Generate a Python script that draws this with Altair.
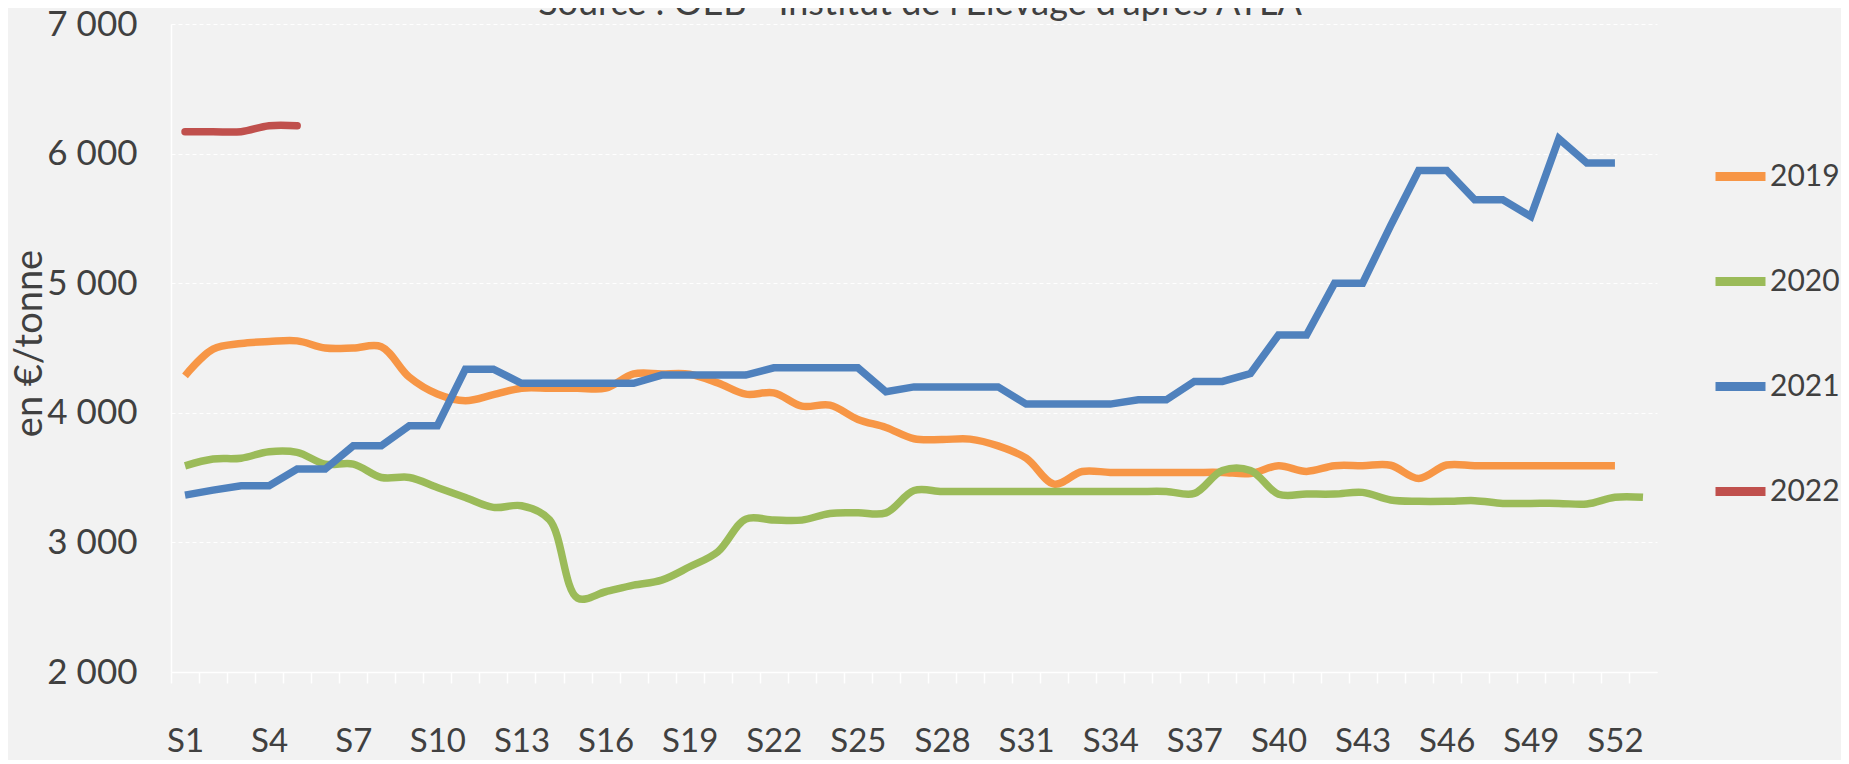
import altair as alt
import pandas as pd

weeks = [f"S{i}" for i in range(1, 54)]
label_weeks = weeks[::3]
years = ["2019", "2020", "2021", "2022"]
colors = ["#F79646", "#9BBB59", "#4F81BD", "#C0504D"]
y_ticks = [2000, 3000, 4000, 5000, 6000, 7000]

v2019 = [4285, 4491, 4535, 4550, 4555, 4500, 4500, 4510, 4275, 4145,
         4093, 4140, 4190, 4190, 4190, 4190, 4300, 4300, 4298, 4231,
         4144, 4154, 4051, 4059, 3949, 3887, 3800, 3794, 3797, 3745,
         3650, 3450, 3547, 3540, 3540, 3540, 3540, 3540, 3532, 3591,
         3548, 3592, 3592, 3595, 3494, 3597, 3592, 3592, 3592, 3592, 3592, 3592]
v2020 = [3591, 3643, 3650, 3700, 3695, 3604, 3604, 3501, 3501, 3424,
         3347, 3270, 3283, 3175, 2570, 2619, 2670, 2709, 2812, 2927,
         3180, 3172, 3172, 3223, 3228, 3228, 3400, 3393, 3393, 3393,
         3393, 3393, 3393, 3393, 3393, 3393, 3378, 3555, 3555, 3372,
         3373, 3373, 3386, 3327, 3317, 3317, 3322, 3301, 3301, 3301,
         3296, 3348, 3348]
v2021 = [3365, 3403, 3437, 3437, 3566, 3566, 3745, 3745, 3900, 3900,
         4337, 4337, 4228, 4228, 4228, 4228, 4228, 4291, 4291, 4291,
         4291, 4347, 4347, 4347, 4347, 4162, 4200, 4200, 4200, 4200,
         4067, 4067, 4067, 4067, 4100, 4100, 4242, 4242, 4303, 4600,
         4600, 5000, 5000, 5445, 5870, 5870, 5644, 5644, 5515, 6115, 5927, 5927]
v2022 = [6169, 6169, 6169, 6215, 6215]

title_text = "Source : OEB - Institut de l'Elevage d'après ATLA"

W, H = 1486, 648
STEP = W / len(weeks)
FONT = "Lato"
TXT = "#404040"


def frame(year, vals):
    return pd.DataFrame({"week": weeks[:len(vals)], "value": vals, "year": year})


label_list = "[" + ",".join(f"'{w}'" for w in label_weeks) + "]"

x_enc = alt.X(
    "week:N",
    sort=weeks,
    scale=alt.Scale(type="point", domain=weeks, padding=0.5),
    axis=alt.Axis(
        title=None,
        grid=False,
        tickOffset=-STEP / 2,
        labelOffset=STEP / 2,
        tickSize=11,
        tickColor="#FFFFFF",
        tickWidth=1.5,
        domainColor="#FFFFFF",
        domainWidth=1.5,
        labelExpr=f"indexof({label_list}, datum.value) >= 0 ? datum.value : ''",
        labelAngle=0,
        labelFontSize=33,
        labelColor=TXT,
        labelFont=FONT,
        labelPadding=68,
        labelBaseline="alphabetic",
        labelOverlap=False,
    ),
)

y_enc = alt.Y(
    "value:Q",
    scale=alt.Scale(domain=[2000, 7000], nice=False, zero=False),
    axis=alt.Axis(
        values=y_ticks,
        labelExpr="replace(format(datum.value, ','), ',', ' ')",
        grid=True,
        gridColor="#FFFFFF",
        gridDash=[4, 3],
        gridWidth=1,
        domainColor="#FFFFFF",
        domainWidth=1.5,
        ticks=False,
        labelPadding=34,
        labelFontSize=35,
        labelColor=TXT,
        labelFont=FONT,
        title="en €/tonne",
        titleFontSize=38,
        titleFont=FONT,
        titleFontWeight="normal",
        titleColor=TXT,
        titleAngle=270,
        titleX=-130,
        titleY=319,
        titleAlign="center",
        titleBaseline="alphabetic",
    ),
)

color_enc = alt.Color(
    "year:N",
    scale=alt.Scale(domain=years, range=colors),
    legend=alt.Legend(
        title=None,
        orient="none",
        legendX=1540,
        legendY=123,
        symbolType="stroke",
        symbolSize=2500,
        symbolStrokeWidth=9,
        labelFontSize=30,
        labelFont=FONT,
        labelColor=TXT,
        labelOffset=0,
        rowPadding=57,
        padding=0,
    ),
)


def line(df, interp, cap="butt"):
    return alt.Chart(df).mark_line(
        interpolate=interp, strokeWidth=7.5, strokeCap=cap
    ).encode(x=x_enc, y=y_enc, color=color_enc)


l19 = line(frame("2019", v2019), "catmull-rom")
l20 = line(frame("2020", v2020), "catmull-rom")
l21 = line(frame("2021", v2021), "linear")
l22 = line(frame("2022", v2022), "catmull-rom", "round")

title_layer = alt.Chart(pd.DataFrame({"t": [title_text]})).mark_text(
    font=FONT, fontSize=36, color=TXT, align="center", baseline="alphabetic"
).encode(text="t:N", x=alt.value(W / 2 + 6), y=alt.value(-9))

chart = alt.layer(l19, l20, l21, l22, title_layer).properties(
    width=W,
    height=H,
    autosize=alt.AutoSizeParams(type="none"),
    padding={"left": 163, "top": 16, "right": 184, "bottom": 88},
    background="#F2F2F2",
).configure_view(stroke=None)

chart.save("out.html", embed_options={"renderer": "svg", "actions": False})
